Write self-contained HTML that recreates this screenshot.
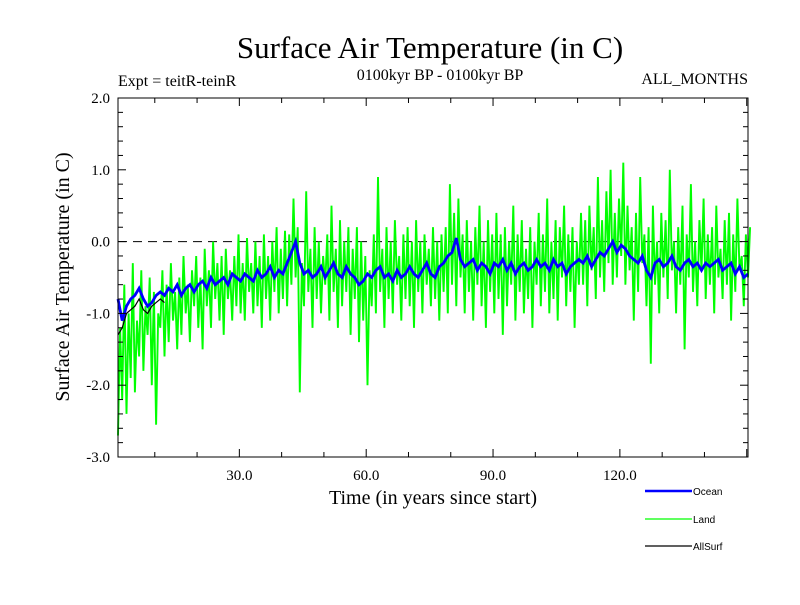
<!DOCTYPE html>
<html><head><meta charset="utf-8"><style>
body{margin:0;background:#fff}
svg text{font-family:"Liberation Serif",serif;fill:#000}
</style></head><body>
<svg id="chart" width="800" height="600" xmlns="http://www.w3.org/2000/svg">
<text x="430" y="58" font-size="31" text-anchor="middle">Surface Air Temperature (in C)</text>
<text x="440" y="80" font-size="16" text-anchor="middle">0100kyr BP - 0100kyr BP</text>
<text x="118" y="86" font-size="16">Expt = teitR-teinR</text>
<text x="748" y="84" font-size="16" text-anchor="end">ALL_MONTHS</text>
<text transform="translate(69,277) rotate(-90)" font-size="20" text-anchor="middle">Surface Air Temperature (in C)</text>
<text x="433" y="504" font-size="20" text-anchor="middle">Time (in years since start)</text>
<g id="plot"></g>
<g id="axes"></g>
<g>
<line x1="645" y1="491" x2="692" y2="491" stroke="#0000ff" stroke-width="2.5"/>
<text x="693" y="495" font-size="10" style="font-family:'Liberation Sans',sans-serif">Ocean</text>
<line x1="645" y1="519" x2="692" y2="519" stroke="#00ff00" stroke-width="1.2"/>
<text x="693" y="523" font-size="10" style="font-family:'Liberation Sans',sans-serif">Land</text>
<line x1="645" y1="546" x2="692" y2="546" stroke="#000" stroke-width="1.2"/>
<text x="693" y="550" font-size="10" style="font-family:'Liberation Sans',sans-serif">AllSurf</text>
</g>
</svg>
<script>
const landValues=[-2.7,-1.2,-2.2,-0.6,-2.4,-1.0,-1.9,-0.3,-2.1,-1.1,
-1.6,-0.4,-1.8,-0.9,-1.3,-0.5,-2.0,-0.7,-2.55,-1.0,
-1.2,-0.4,-1.6,-0.6,-1.4,-0.3,-1.1,-0.7,-1.5,-0.5,
-1.3,-0.2,-1.0,-0.6,-1.4,-0.4,-0.9,-0.2,-1.2,-0.5,
-1.5,-0.1,-0.9,-0.4,-1.2,0.0,-0.8,-0.3,-1.1,-0.2,
-1.3,-0.1,-0.8,-0.4,-1.1,-0.2,-0.9,0.1,-1.0,-0.3,
-1.1,0.05,-0.7,-0.3,-1.0,0.0,-0.9,-0.2,-1.2,0.1,
-0.8,-0.2,-1.1,0.0,-0.7,0.2,-1.0,-0.1,-0.8,0.15,
-0.9,0.1,-0.6,0.6,-0.5,0.2,-2.1,-0.3,-0.9,0.7,
-0.7,-0.1,-1.2,0.2,-0.8,0.0,-1.0,-0.2,-0.6,0.1,
-1.1,0.5,-0.7,-0.1,-1.2,0.3,-0.9,0.0,-0.7,0.2,
-1.3,-0.1,-0.8,0.2,-1.4,0.0,-1.1,-0.2,-2.0,-0.4,
-0.9,0.1,-1.0,0.9,-0.7,-0.1,-1.2,0.2,-0.8,0.0,
-1.0,0.3,-0.6,-0.2,-1.1,0.1,-0.8,0.2,-0.9,0.0,
-1.2,0.3,-0.7,0.0,-1.0,0.1,-0.6,-0.1,-0.9,0.2,
-0.8,0.0,-1.1,0.1,-0.7,0.2,-1.0,0.8,-0.6,0.4,
-0.9,0.6,-0.5,0.1,-1.0,0.3,-0.7,0.0,-1.1,0.2,
-0.6,0.5,-0.9,0.0,-1.2,0.3,-0.7,0.1,-1.0,0.4,
-0.8,0.1,-1.3,0.2,-0.9,0.0,-0.6,0.5,-1.1,0.1,
-0.7,0.3,-1.0,-0.1,-0.8,0.2,-1.2,0.0,-0.6,0.4,
-0.9,0.1,-0.7,0.6,-1.0,0.0,-0.8,0.3,-1.1,0.2,
-0.5,0.5,-0.9,0.1,-0.7,0.2,-1.2,0.0,-0.6,0.4,
-0.6,0.3,-0.9,0.5,-0.4,0.2,-0.8,0.9,-0.5,0.3,
-0.7,0.7,-0.3,1.0,-0.6,0.4,-0.5,0.6,-0.2,1.1,
-0.6,0.5,-0.4,0.2,-1.1,0.4,-0.7,0.9,-0.3,0.1,
-0.9,0.2,-1.7,0.5,-0.6,0.0,-1.0,0.4,-0.5,0.3,
-0.8,1.0,-0.4,0.0,-1.0,0.2,-0.6,0.5,-1.5,0.1,
-0.5,0.8,-0.7,0.0,-0.9,0.3,-0.4,0.6,-0.8,0.1,
-0.6,0.2,-1.0,0.5,-0.5,-0.1,-0.8,0.3,-0.6,0.4,
-1.1,0.1,-0.7,0.6,-0.4,-0.2,-0.9,0.1,-0.5,0.2];
const oceanValues=[-0.8,-1.1,-0.9,-0.8,-0.75,-0.65,-0.8,-0.9,-0.85,-0.75,
-0.7,-0.75,-0.65,-0.7,-0.6,-0.75,-0.65,-0.6,-0.7,-0.6,
-0.55,-0.65,-0.5,-0.6,-0.55,-0.5,-0.6,-0.45,-0.5,-0.55,
-0.45,-0.5,-0.55,-0.4,-0.5,-0.45,-0.35,-0.5,-0.4,-0.45,
-0.3,-0.15,0.0,-0.3,-0.45,-0.4,-0.5,-0.45,-0.35,-0.5,
-0.4,-0.3,-0.45,-0.5,-0.35,-0.45,-0.5,-0.6,-0.55,-0.45,
-0.5,-0.4,-0.35,-0.5,-0.45,-0.55,-0.4,-0.5,-0.45,-0.35,
-0.45,-0.5,-0.4,-0.3,-0.45,-0.5,-0.35,-0.3,-0.2,-0.15,
0.05,-0.25,-0.35,-0.3,-0.25,-0.4,-0.3,-0.35,-0.45,-0.3,
-0.35,-0.25,-0.4,-0.3,-0.45,-0.35,-0.3,-0.4,-0.35,-0.25,
-0.35,-0.3,-0.4,-0.25,-0.35,-0.3,-0.45,-0.35,-0.3,-0.25,
-0.3,-0.2,-0.35,-0.25,-0.15,-0.2,-0.1,0.0,-0.15,-0.05,
-0.1,-0.2,-0.25,-0.3,-0.2,-0.4,-0.5,-0.3,-0.25,-0.35,
-0.3,-0.2,-0.35,-0.4,-0.3,-0.25,-0.35,-0.3,-0.4,-0.3,
-0.35,-0.3,-0.25,-0.4,-0.35,-0.3,-0.45,-0.35,-0.5,-0.45];
const allSurfValues=[-1.3,-1.2,-1.0,-0.95,-0.9,-0.8,-0.95,-1.0,-0.9,-0.85,-0.8,-0.85];
const xTickLabels=[30,60,90,120];
const yTickLabels=[-3,-2,-1,0,1,2];

const L=118,R=748,T=98,B=457,X0=1.3,X1=150.3,Y0=-3,Y1=2;
const sx=v=>L+(v-X0)/(X1-X0)*(R-L);
const sy=v=>B-(v-Y0)/(Y1-Y0)*(B-T);
const NS="http://www.w3.org/2000/svg";
const plot=document.getElementById('plot'),axes=document.getElementById('axes');
function mk(tag,attrs,parent){const e=document.createElementNS(NS,tag);for(const k in attrs)e.setAttribute(k,attrs[k]);parent.appendChild(e);return e;}
function series(vals,step,start,color,w,name){
  const pts=vals.map((v,i)=>sx(start+i*step).toFixed(1)+','+sy(v).toFixed(1)).join(' ');
  const p=mk('polyline',{points:pts,fill:'none',stroke:color,'stroke-width':w,'stroke-linejoin':'miter'},plot);
  
  
}
const zl=mk('line',{x1:L,x2:R,y1:sy(0),y2:sy(0),stroke:'#000','stroke-dasharray':'9,6','stroke-width':1},plot);


series(landValues,0.5,1.3,'#00ff00',1.9,'land-series');
series(allSurfValues,1,1.3,'#000',1.2,'allsurf-series');
series(oceanValues,1,1.3,'#0000ff',2.8,'ocean-series');
const fr=mk('rect',{x:L,y:T,width:R-L,height:B-T,fill:'none',stroke:'#000','stroke-width':1},axes);


for(let y=10;y<=150;y+=10){const x=sx(y);const len=(y%30===0)?8:5;
  mk('line',{x1:x,x2:x,y1:B,y2:B-len,stroke:'#000'},axes);
  mk('line',{x1:x,x2:x,y1:T,y2:T+len,stroke:'#000'},axes);}
for(let v=-3;v<=2.001;v+=0.2){const y=sy(v);const maj=Math.abs(v-Math.round(v))<0.01;const len=maj?8:5;
  mk('line',{x1:L,x2:L+len,y1:y,y2:y,stroke:'#000'},axes);
  mk('line',{x1:R,x2:R-len,y1:y,y2:y,stroke:'#000'},axes);}
xTickLabels.forEach(v=>{const t=mk('text',{x:sx(v),y:480,'font-size':15,'text-anchor':'middle'},axes);t.textContent=v.toFixed(1);
  
  });
yTickLabels.forEach(v=>{const t=mk('text',{x:110,y:sy(v)+5,'font-size':15,'text-anchor':'end'},axes);t.textContent=v.toFixed(1);
  
  });
</script>
</body></html>
